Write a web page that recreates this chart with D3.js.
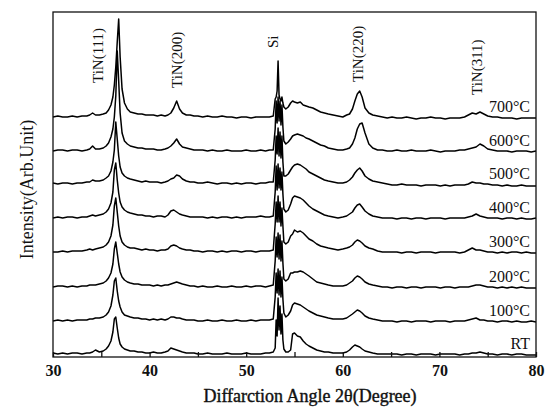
<!DOCTYPE html>
<html>
<head>
<meta charset="utf-8">
<script src="https://cdn.jsdelivr.net/npm/d3@7"></script>
<style>
  * { margin: 0; padding: 0; }
  body { background: #fff; }
  svg { display: block; font-family: "Liberation Serif", "Times New Roman", serif; }
</style>
</head>
<body>
<div id="chart"></div>
<script>
// 2theta grid shared by all patterns (denser near the peaks)
const angles = [
  30, 30.5, 31, 31.5, 32, 32.5, 33, 33.5, 33.8, 34.1, 34.4, 34.8, 35.2, 35.5,
  35.75, 36.0, 36.2, 36.35, 36.5, 36.65, 36.8, 36.95, 37.15, 37.4, 37.7, 38.0,
  38.4, 38.8, 39.2, 39.6, 40.0, 40.4, 40.8, 41.2, 41.6, 41.9,
  42.2, 42.5, 42.8, 43.1, 43.4, 43.8, 44.2,
  44.6, 45.0, 45.5, 46.0, 46.5, 47.0, 47.5, 48.0, 48.5, 49.0, 49.5, 50.0, 50.5, 51.0, 51.5, 52.0, 52.4, 52.8,
  53.0, 53.1, 53.2, 53.3, 53.4, 53.5, 53.6, 53.7, 53.8, 53.9, 54.1, 54.35, 54.6,
  54.8, 55.0, 55.3, 55.6, 55.9, 56.2, 56.5, 56.9, 57.3, 57.7, 58.1, 58.5, 59.0, 59.5, 60.0, 60.4,
  60.7, 61.0, 61.25, 61.5, 61.75, 62.0, 62.3, 62.7, 63.1, 63.6, 64.1,
  64.6, 65.1, 65.6, 66.1, 66.6, 67.1, 67.6, 68.1, 68.6, 69.1, 69.6, 70.1, 70.6, 71.1, 71.6, 72.1, 72.6,
  73.0, 73.4, 73.8, 74.2, 74.6, 75.0, 75.5, 76.0, 76.5, 77.0, 77.5, 78.0, 78.5, 79.0, 79.5, 80.0
];

// intensity above each pattern's own baseline (arb. unit)
const iRT = [
  1, 0, 1, 0, 1, 1, 0, 1, 1, 2, 4, 2, 3, 5,
  8, 13, 22, 35, 37, 26, 16, 10, 7, 5, 4, 3,
  3, 2, 2, 1, 1, 2, 1, 1, 2, 3,
  6, 5, 4, 3, 2, 1, 1,
  1, 0, 0, 1, 0, 0, 0, 1, 0, 0, 0, 1, 0, 0, 0, 1, 1, 2,
  6, 34, 18, 56, 24, 48, 20, 40, 14, 5, 2, 2, 4,
  20, 21, 18, 17, 13, 10, 8, 6, 4, 3, 2, 2, 1, 1, 1, 2,
  4, 7, 9, 8, 7, 5, 3, 2, 1, 0, 0,
  0, 0, 0, -1, 0, 0, -1, 0, 0, 0, -1, 0, 0, 0, 0, -1, 0,
  0, 1, 1, 2, 1, 0, 0, -1, 0, 0, -1, 0, 0, -1, -1, -1
];
const i100 = [
  0, 1, 0, 1, 0, 1, 1, 1, 2, 2, 3, 3, 4, 6,
  9, 15, 26, 40, 43, 30, 20, 14, 9, 6, 5, 4,
  3, 3, 2, 2, 1, 2, 1, 2, 1, 2,
  4, 4, 3, 3, 2, 1, 1,
  1, 0, 0, 1, 0, 0, 1, 0, 0, 1, 0, 0, 1, 0, 1, 1, 1, 2,
  24, 48, 28, 52, 26, 50, 24, 44, 22, 8, 4, 6, 10,
  16, 18, 17, 16, 14, 12, 10, 8, 6, 5, 4, 3, 2, 2, 2, 3,
  5, 7, 9, 11, 10, 8, 5, 3, 2, 1, 0,
  0, 0, -1, 0, 0, -1, 0, 0, 0, -1, 0, 0, 0, -1, 0, 0, 0,
  1, 2, 3, 1, 1, 0, 0, -1, 0, 0, -1, 0, -1, -1, 0, -1
];
const i200 = [
  0, 1, 1, 0, 1, 0, 1, 1, 2, 2, 2, 3, 4, 6,
  9, 14, 23, 38, 45, 34, 23, 15, 10, 7, 5, 4,
  3, 3, 2, 2, 2, 1, 2, 1, 2, 2,
  3, 4, 5, 4, 3, 2, 1,
  1, 0, 1, 0, 0, 1, 0, 0, 1, 0, 0, 1, 0, 1, 1, 0, 1, 2,
  26, 50, 30, 54, 28, 52, 26, 46, 24, 8, 6, 8, 14,
  14, 15, 15, 16, 15, 13, 11, 8, 5, 4, 3, 2, 1, 1, 1, 2,
  4, 6, 9, 11, 10, 8, 5, 3, 2, 1, 0,
  0, -1, 0, 0, -1, 0, 0, -1, 0, 0, 0, -1, 0, 0, -1, 0, 0,
  0, 1, 2, 2, 1, 0, 0, -1, 0, -1, 0, -1, 0, -1, -1, -1
];
const i300 = [
  0, 0, 1, 0, 1, 1, 1, 2, 3, 2, 3, 4, 5, 7,
  10, 16, 27, 46, 54, 40, 26, 16, 10, 7, 5, 4,
  4, 3, 2, 3, 2, 2, 1, 2, 2, 3,
  6, 7, 6, 4, 3, 2, 2,
  1, 1, 0, 1, 1, 0, 1, 0, 1, 1, 0, 1, 1, 0, 1, 1, 1, 2,
  28, 50, 30, 56, 30, 50, 26, 44, 26, 10, 8, 10, 16,
  18, 22, 20, 21, 19, 16, 13, 11, 8, 6, 5, 4, 3, 2, 3, 4,
  5, 7, 10, 12, 11, 9, 6, 4, 3, 1, 0,
  0, 0, 0, -1, 0, 0, -1, 0, 0, 0, -1, 0, 0, 0, 0, -1, 0,
  2, 4, 2, 2, 1, 0, 0, -1, 0, -1, 0, 0, -1, 0, -1, -1
];
const i400 = [
  0, 1, 0, 1, 1, 0, 1, 1, 2, 3, 2, 3, 4, 6,
  9, 15, 26, 48, 55, 38, 25, 16, 11, 8, 6, 5,
  4, 3, 3, 2, 2, 1, 2, 2, 1, 3,
  7, 8, 6, 4, 3, 2, 1,
  1, 1, 1, 0, 1, 0, 1, 1, 0, 1, 0, 1, 1, 1, 2, 1, 1, 2,
  26, 52, 28, 54, 30, 50, 28, 46, 24, 9, 6, 8, 14,
  20, 22, 21, 20, 18, 15, 12, 9, 7, 5, 3, 2, 1, 0, 1, 2,
  4, 6, 10, 13, 14, 11, 7, 4, 2, 1, 0,
  0, 0, -1, 0, 0, -1, 0, 0, -1, 0, 0, 0, -1, 0, 0, 0, 0,
  1, 2, 4, 2, 1, 0, 0, 0, -1, 0, 0, -1, 0, -1, -1, 0
];
const i500 = [
  1, 0, 1, 1, 0, 1, 1, 2, 2, 4, 3, 3, 4, 6,
  8, 13, 22, 34, 62, 45, 28, 17, 11, 8, 6, 5,
  4, 3, 2, 3, 2, 2, 2, 1, 2, 3,
  5, 6, 9, 8, 5, 3, 2,
  2, 1, 1, 2, 1, 0, 1, 1, 0, 1, 0, 1, 1, 0, 1, 1, 2, 2,
  24, 48, 30, 56, 28, 52, 26, 48, 22, 8, 8, 10, 14,
  17, 19, 20, 19, 17, 15, 12, 10, 8, 6, 4, 3, 2, 1, 1, 2,
  4, 7, 11, 14, 16, 13, 8, 5, 3, 2, 1,
  0, -1, -1, 0, -1, -1, -1, -2, -1, -1, -1, -2, -1, -2, -1, -1, -1,
  0, 2, 1, 1, 0, 0, -1, -1, -2, -1, -2, -2, -1, -2, -2, -2
];
const i600 = [
  0, 1, 1, 0, 1, 1, 0, 1, 2, 5, 2, 2, 3, 5,
  8, 14, 22, 34, 55, 100, 70, 38, 18, 10, 7, 5,
  4, 3, 3, 2, 2, 2, 1, 1, 2, 3,
  5, 8, 12, 7, 4, 3, 2,
  1, 1, 1, 0, 1, 0, 0, 1, 0, 0, 0, 1, 0, 0, 1, 0, 1, 1,
  22, 50, 28, 54, 30, 50, 26, 46, 24, 10, 7, 9, 12,
  15, 16, 17, 16, 15, 13, 12, 10, 8, 6, 5, 3, 2, 1, 1, 2,
  3, 7, 13, 22, 27, 28, 18, 7, 3, 1, 1,
  0, 0, 1, 0, 0, 1, 0, 0, 0, 1, 0, -1, 0, 0, 0, 1, 1,
  2, 3, 4, 7, 5, 2, 1, 0, 0, 0, -1, 0, 0, 0, -1, 0
];
const i700 = [
  0, 1, 0, 0, 1, 0, 1, 1, 2, 4, 2, 2, 3, 4,
  7, 12, 20, 32, 50, 75, 98, 60, 28, 14, 8, 5,
  4, 3, 3, 2, 2, 2, 1, 2, 1, 2,
  4, 9, 16, 8, 4, 2, 2,
  1, 1, 0, 1, 0, 0, 1, 0, 0, -1, 0, 0, -1, 0, 0, 0, 0, 1,
  18, 20, 26, 56, 22, 18, 16, 20, 14, 10, 8, 10, 14,
  16, 15, 14, 15, 12, 11, 10, 9, 7, 5, 4, 3, 2, 1, 0, 2,
  3, 8, 16, 23, 26, 20, 9, 4, 2, 1, 0,
  -1, 0, -1, -1, 0, -1, -2, -1, -1, 0, -1, -1, -2, -1, -1, -1, 0,
  2, 4, 3, 5, 3, 1, 0, 0, -1, -1, -1, -2, -1, -1, -1, -1
];

const patterns = [iRT, i100, i200, i300, i400, i500, i600, i700];
const temperatures = ["RT", "100°C", "200°C", "300°C", "400°C", "500°C", "600°C", "700°C"];
const offsets = [3, 36, 70, 105, 139, 173, 206, 240];

const peakNames = ["TiN(111)", "TiN(200)", "Si", "TiN(220)", "TiN(311)"];
const peakAngles = [35.2, 43.35, 53.3, 62.1, 74.4];

const xTicks = [30, 35, 40, 45, 50, 55, 60, 65, 70, 75, 80];

// ---- layout
const W = 551, H = 408;
const mLeft = 53, mRight = 536, mTop = 12, mBottom = 357;

const svg = d3.select("#chart").append("svg")
  .attr("width", W).attr("height", H);

const x = d3.scaleLinear().domain([30, 80]).range([mLeft, mRight]);
const y = d3.scaleLinear().domain([0, 345]).range([mBottom, mTop]);

const line = d3.line()
  .x(d => x(d[0]))
  .y(d => y(d[1]));

patterns.forEach((vals, i) => {
  const pts = vals.map((v, k) => [angles[k], v + offsets[i]]);
  svg.append("path")
    .datum(pts)
    .attr("d", line)
    .attr("fill", "none")
    .attr("stroke", "#000")
    .attr("stroke-width", 1.5)
    .attr("stroke-linejoin", "round");
});

// frame
svg.append("rect")
  .attr("x", mLeft).attr("y", mTop)
  .attr("width", mRight - mLeft).attr("height", mBottom - mTop)
  .attr("fill", "none").attr("stroke", "#111").attr("stroke-width", 1.3);

// bottom axis: inward ticks every 5, labels every 10
const xAxis = d3.axisBottom(x)
  .tickValues(xTicks)
  .tickSizeInner(-5).tickSizeOuter(0).tickPadding(8)
  .tickFormat(d => d % 10 === 0 ? d : "");
const gx = svg.append("g")
  .attr("transform", `translate(0,${mBottom})`)
  .call(xAxis);
gx.select(".domain").remove();
gx.selectAll("line").attr("stroke", "#111").attr("stroke-width", 1.3);
gx.selectAll("text")
  .attr("fill", "#111")
  .style("font-family", "'Liberation Serif', serif")
  .style("font-size", "16px")
  .style("font-weight", "bold");

// temperature labels at the right end of every pattern
svg.selectAll(".temp")
  .data(temperatures)
  .enter().append("text")
  .attr("class", "temp")
  .attr("x", x(80) - 6)
  .attr("y", (d, i) => y(offsets[i]) - 5)
  .attr("text-anchor", "end")
  .attr("fill", "#111")
  .style("font-size", "16px")
  .text(d => d);

// peak labels, rotated
const labelBottom = [83, 88, 48, 82, 95];
svg.selectAll(".peak")
  .data(peakNames)
  .enter().append("text")
  .attr("class", "peak")
  .attr("transform", (d, i) => `translate(${x(peakAngles[i])},${labelBottom[i]}) rotate(-90)`)
  .attr("fill", "#111")
  .style("font-size", "15px")
  .text(d => d);

// axis titles
svg.append("text")
  .attr("transform", `translate(33,${(mTop + mBottom) / 2 + 5}) rotate(-90)`)
  .attr("text-anchor", "middle")
  .attr("fill", "#111")
  .style("font-size", "18px")
  .text("Intensity(Arb.Unit)");

svg.append("text")
  .attr("x", 310).attr("y", 402)
  .attr("text-anchor", "middle")
  .attr("fill", "#111")
  .attr("stroke", "#111").attr("stroke-width", 0.4)
  .style("font-size", "18px")
  .text("Diffarction Angle 2θ(Degree)");
</script>
</body>
</html>
